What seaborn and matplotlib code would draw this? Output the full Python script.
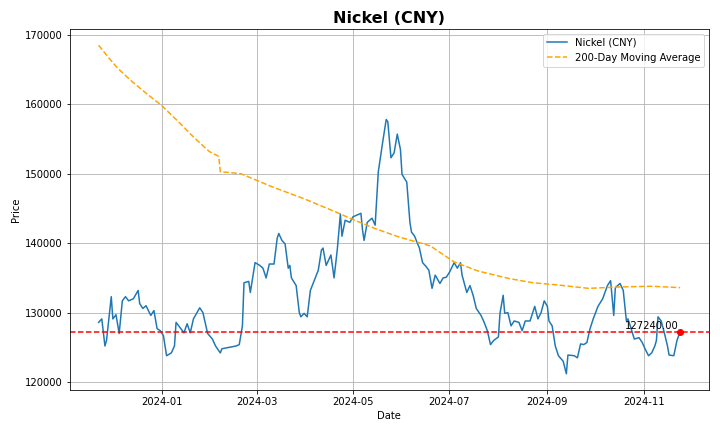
import matplotlib
matplotlib.use("Agg")
import matplotlib.pyplot as plt
import matplotlib.dates as mdates
import pandas as pd
import seaborn as sns

# price series: day offset from 2023-11-22, price (CNY)
START = pd.Timestamp("2023-11-22")
price_days = [0, 2, 4, 5, 8, 9, 11, 13, 15, 17, 19, 22, 25, 26, 28, 30, 33, 35, 37, 39,
              41, 43, 46, 48, 49, 52, 54, 56, 58, 60, 64, 66, 69, 72, 74, 77, 78, 87, 89, 91,
              92, 95, 96, 99, 102, 104, 106, 108, 111, 113, 114, 116, 118, 120, 121, 122, 125, 127, 128, 130,
              132, 134, 139, 141, 142, 144, 147, 149, 151, 153, 154, 156, 159, 161, 166, 167, 168, 170, 173, 175,
              177, 180, 182, 183, 185, 187, 189, 191, 192, 195, 197, 198, 200, 201, 203, 205, 207, 209, 211, 213,
              216, 218, 220, 222, 225, 227, 229, 230, 233, 235, 237, 239, 242, 244, 246, 248, 250, 253, 254, 256,
              257, 259, 261, 263, 266, 268, 270, 273, 276, 278, 280, 282, 284, 285, 287, 289, 291, 294, 296, 297,
              301, 303, 305, 307, 309, 311, 313, 316, 319, 322, 324, 326, 327, 330, 332, 334, 335, 337, 339, 342,
              344, 346, 348, 350, 352, 353, 354, 356, 358, 360, 361, 364, 366, 368]
price_vals = [128600, 129100, 125200, 126000, 132300, 129100, 129700, 127000, 131700, 132300,
              131700, 132000, 133200, 131300, 130600, 131000, 129600, 130300, 127700, 127400,
              126700, 123800, 124200, 125200, 128600, 127700, 127100, 128400, 127100, 129100,
              130700, 130000, 127000, 126200, 125200, 124200, 124800, 125200, 125400, 128100,
              134300, 134500, 132900, 137200, 136800, 136400, 135000, 137000, 137000, 140700,
              141400, 140400, 139900, 136400, 136800, 135000, 133900, 130000, 129400, 129900,
              129400, 133200, 136100, 139000, 139300, 136800, 138300, 135000, 139000, 144200,
              141000, 143300, 143000, 143800, 144300, 141900, 140400, 143000, 143600, 142600,
              150300, 154900, 157800, 157500, 152300, 153000, 155700, 153500, 149900, 148800,
              143000, 141600, 141000, 140400, 139300, 137200, 136700, 136100, 133500, 135400,
              134200, 135000, 135100, 135800, 137200, 136400, 137200, 135400, 132900, 133900,
              132500, 130600, 129600, 128600, 127400, 125400, 126000, 126500, 129900, 132500,
              129900, 130000, 128100, 128800, 128600, 127400, 128800, 128800, 130900, 129100,
              130000, 131700, 130900, 128800, 128100, 125200, 123800, 123000, 121200, 123900,
              123800, 123500, 125500, 125400, 125700, 127700, 129100, 130900, 132000, 133900,
              134600, 129600, 133600, 134200, 133200, 128800, 129100, 127700, 126200, 126400,
              125700, 124700, 123800, 124200, 125200, 126000, 129400, 128800, 127100, 125200,
              123900, 123800, 126000, 127240]

# 200-day moving average
ma_days = [0, 6, 12, 20, 30, 40, 50, 60, 70, 76, 77, 90, 110, 130, 150, 160, 175, 190,
           210, 225, 240, 260, 275, 290, 310, 330, 350, 368]
ma_vals = [168500, 166800, 165200, 163500, 161600, 159800, 157600, 155300, 153200, 152500,
           150300, 150000, 148100, 146400, 144500, 143500, 142100, 140900,
           139600, 137300, 136000, 134900, 134300, 134000, 133500, 133700, 133800, 133600]

last_price = 127240

df = pd.DataFrame({"Date": START + pd.to_timedelta(price_days, unit="D"), "Price": price_vals})
ma = pd.DataFrame({"Date": START + pd.to_timedelta(ma_days, unit="D"), "MA": ma_vals})

fig, ax = plt.subplots(figsize=(10, 6), dpi=72)
sns.lineplot(data=df, x="Date", y="Price", ax=ax, color="#1f77b4", label="Nickel (CNY)")
sns.lineplot(data=ma, x="Date", y="MA", ax=ax, color="orange", linestyle="--", label="200-Day Moving Average")
ax.axhline(last_price, color="red", linestyle="--")
ax.scatter(df["Date"].iloc[-1], last_price, color="red", zorder=5)
ax.annotate(f"{last_price:.2f}", (df["Date"].iloc[-1], last_price), xytext=(-55, 3),
            textcoords="offset points", fontsize=10)
ax.set_title("Nickel (CNY)", fontsize=16, weight="bold")
ax.set_xlabel("Date")
ax.set_ylabel("Price")
ax.grid(True)
ax.xaxis.set_major_locator(mdates.MonthLocator(bymonth=[1, 3, 5, 7, 9, 11]))
ax.xaxis.set_major_formatter(mdates.DateFormatter("%Y-%m"))
ax.legend(loc="upper right")
fig.tight_layout()
fig.savefig("out.png")
